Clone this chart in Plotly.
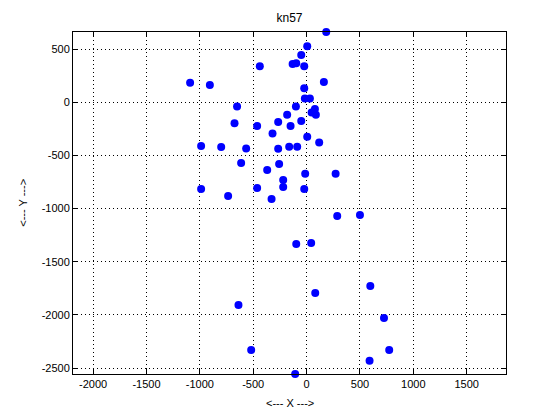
import plotly.graph_objects as go

title = "kn57"
x_label = "<--- X --->"
y_label = "<--- Y --->"
x_vals = [184, 6, -50, -131, -97, -22, -438, -1091, -906, 162, -22, -16, 31,
          -651, -100, 47, 78, 87, -675, -182, -50, -266, -463, -150, -319, 6, 118,
          -988, -800, -566, -266, -163, -88,
          -613, -257, -369, -13, 272, -219, -219, -988, -463, -22, -735, -328,
          287, 500, -97, 43,
          597, 81, -638, -519, 590, -107, 725, 774]
y_vals = [661, 528, 444, 359, 368, 340, 340, 183, 162, 190, 133, 36, 36,
          -39, -39, -96, -64, -117, -196, -117, -177, -186, -224, -222, -293, -324, -378,
          -412, -421, -434, -437, -418, -418,
          -571, -581, -637, -672, -672, -731, -797, -816, -807, -816, -882, -910,
          -1070, -1060, -1333, -1324,
          -1727, -1793, -1906, -2329, -2430, -2555, -2028, -2329]
x_ticks = [-2000, -1500, -1000, -500, 0, 500, 1000, 1500]
y_ticks = [500, 0, -500, -1000, -1500, -2000, -2500]

fig = go.Figure(go.Scatter(
    x=x_vals, y=y_vals, mode="markers",
    marker=dict(color="#0000ff", size=8, line=dict(width=0)),
    cliponaxis=False,
))

fam = "Liberation Sans, Arial, sans-serif"
font = dict(family=fam, size=11, color="black")
axis_common = dict(
    showline=True, linecolor="black", linewidth=1, mirror="ticks",
    ticks="inside", ticklen=5, tickcolor="black",
    showgrid=True, gridcolor="black", gridwidth=1, griddash="1px,3px",
    zeroline=False, tickfont=font, automargin=False,
)
fig.update_layout(
    width=560, height=420,
    margin=dict(l=65, r=62, t=24, b=54),
    paper_bgcolor="white", plot_bgcolor="white",
    showlegend=False,
    title=dict(text=title, xref="paper", x=0.5, xanchor="center",
               yref="container", y=0.976, yanchor="middle",
               font=dict(family=fam, size=12, color="black")),
    xaxis=dict(range=[-2188, 1868], tickvals=x_ticks, ticktext=[str(v) for v in x_ticks],
               **axis_common),
    yaxis=dict(range=[-2555, 661], tickvals=y_ticks, ticktext=[str(v) for v in y_ticks],
               **axis_common),
    annotations=[
        dict(text=x_label, xref="paper", yref="paper", x=0.5, y=-0.0848,
             xanchor="center", yanchor="middle", showarrow=False, font=font),
        dict(text=y_label, xref="paper", yref="paper", x=-0.116, y=0.5,
             xanchor="center", yanchor="middle", textangle=-90, showarrow=False, font=font),
    ],
)
fig.write_html("out.html")
